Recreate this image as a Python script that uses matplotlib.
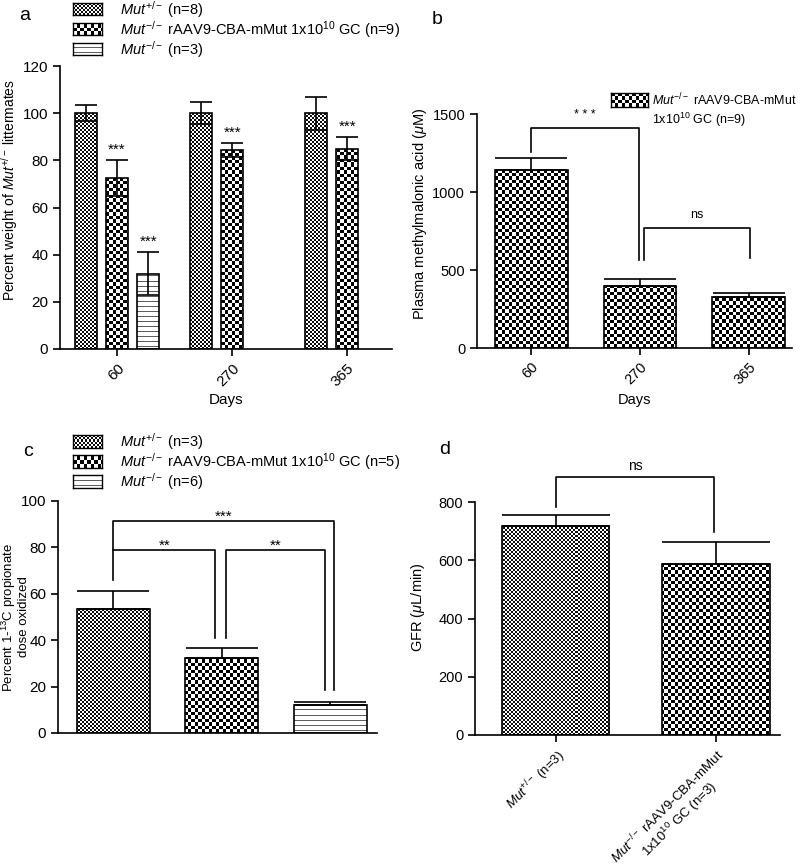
import numpy as np
import matplotlib
matplotlib.use('Agg')
import matplotlib.pyplot as plt

plt.rcParams['font.family'] = 'Liberation Sans'
plt.rcParams['mathtext.fontset'] = 'custom'
plt.rcParams['mathtext.rm'] = 'Liberation Sans'
plt.rcParams['mathtext.it'] = 'Liberation Sans:italic'
plt.rcParams['axes.linewidth'] = 1.2

# ---- data ----
days = ['60', '270', '365']

# a: percent weight of Mut+/- littermates
a_het_mean = [100, 100, 100]
a_het_sem = [3.5, 4.7, 7.0]
a_aav_mean = [72.5, 84.3, 85.0]
a_aav_sem = [7.5, 3.0, 4.8]
a_ko_mean = [32.0]          # only measured at day 60
a_ko_sem = [9.0]

# b: plasma methylmalonic acid (uM), treated mice
b_mma_mean = [1141, 397, 327]
b_mma_sem = [77, 45, 25]
# brackets: (x left, x right, y top, y left end, y right end, label)
b_brackets = [(0, 0.99, 1410, 1256, 564, '* * *'),
              (1.04, 2.01, 769, 564, 577, 'ns')]

# c: percent 1-13C propionate oxidized
c_mean = [53.4, 32.3, 12.2]
c_sem = [7.7, 4.3, 1.0]
c_brackets = [(0, 0.94, 79, 66, 41, '**'),
              (1.04, 1.95, 79, 41, 18.5, '**'),
              (0, 2.03, 91.5, 79, 18.5, '***')]

# d: GFR (uL/min)
d_labels = [r'$Mut^{+/-}$ (n=3)',
            r'$Mut^{-/-}$ rAAV9-CBA-mMut' + '\n' + r'1x10$^{10}$ GC (n=3)']
d_mean = [717, 586]
d_sem = [38, 76]
d_brackets = [(0, 0.99, 886, 783, 696, 'ns')]

FW, FH = 800, 866
fig = plt.figure(figsize=(FW / 100, FH / 100), dpi=100)


def pattern(w, h, kind):
    yy, xx = np.mgrid[0:h, 0:w]
    if kind == 'fine':
        return ((xx // 2 + yy // 2) % 2).astype(float) * 0.95
    if kind == 'coarse':
        return ((np.floor(xx / 3.5) + np.floor(yy / 3.5)) % 2).astype(float)
    return (yy % 5 == 2).astype(float) * 0.7


def fill_bars(ax, bars, kind):
    bb = ax.get_window_extent()
    w, h = int(round(bb.width)), int(round(bb.height))
    x0, x1 = ax.get_xlim()
    y0, y1 = ax.get_ylim()
    z = pattern(w, h, kind)
    for rect in bars:
        im = ax.imshow(z, cmap='Greys', vmin=0, vmax=1, origin='lower',
                       extent=(x0, x1, y0, y1), aspect='auto',
                       interpolation='nearest', zorder=1)
        im.set_clip_path(rect)
    ax.set_xlim(x0, x1)
    ax.set_ylim(y0, y1)


def px_axes(left, top, right, bottom):
    return fig.add_axes([left / FW, 1 - bottom / FH,
                         (right - left) / FW, (bottom - top) / FH])


def style(ax, fs):
    for s in ['top', 'right']:
        ax.spines[s].set_visible(False)
    ax.tick_params(direction='out', length=5, width=1.2, labelsize=fs)


def ylabel_at(ax, text, x_px, y_px, fs, **kw):
    # right edge of the (rotated) label at figure pixel column x_px,
    # label centred on figure pixel row y_px
    ax.set_ylabel(text, fontsize=fs, **kw)
    bb = ax.get_window_extent()
    ax.yaxis.set_label_coords((x_px - bb.x0) / bb.width,
                              ((FH - y_px) - bb.y0) / bb.height)


def swatch(x, y, w, h, kind):
    sa = px_axes(x, y, x + w, y + h)
    sa.imshow(pattern(w, h, kind), cmap='Greys', vmin=0, vmax=1,
              origin='lower', aspect='auto', interpolation='nearest')
    sa.set_xticks([])
    sa.set_yticks([])
    for s in sa.spines.values():
        s.set_linewidth(1.0)


def brackets(ax, items, fs, pad=1):
    for xl, xr, yt, yl, yr, lab in items:
        ax.plot([xl, xl, xr, xr], [yl, yt, yt, yr], color='black', lw=1.2,
                clip_on=False, zorder=4)
        ax.annotate(lab, ((xl + xr) / 2, yt), xytext=(0, pad),
                    textcoords='offset points', ha='center', va='bottom',
                    fontsize=fs, annotation_clip=False)


edge = dict(facecolor='none', edgecolor='black', linewidth=1.2, zorder=2)
err = dict(fmt='none', ecolor='black', elinewidth=1.2, capthick=1.2, zorder=3)

# ---------------- panel a ----------------
ax = px_axes(60, 66, 392, 349)
style(ax, 11)
ax.set_xlim(-0.496, 2.39)
ax.set_ylim(0, 120)
xa = np.arange(len(days))
off = 0.27
bw = 0.19
b1 = ax.bar(xa - off, a_het_mean, bw, **edge)
b2 = ax.bar(xa, a_aav_mean, bw, **edge)
b3 = ax.bar(xa[:1] + off, a_ko_mean, bw, **edge)
fill_bars(ax, b1, 'fine')
fill_bars(ax, b2, 'coarse')
fill_bars(ax, b3, 'lines')
ax.errorbar(xa - off, a_het_mean, yerr=a_het_sem, capsize=8, **err)
ax.errorbar(xa, a_aav_mean, yerr=a_aav_sem, capsize=8, **err)
ax.errorbar(xa[:1] + off, a_ko_mean, yerr=a_ko_sem, capsize=8, **err)
for xi, m, s in zip(xa, a_aav_mean, a_aav_sem):
    ax.text(xi, m + s + 1.5, '***', ha='center', va='bottom', fontsize=11)
ax.text(off, a_ko_mean[0] + a_ko_sem[0] + 1.5, '***', ha='center', va='bottom', fontsize=11)
ax.set_yticks(range(0, 121, 20))
ax.set_xticks(xa)
ax.set_xticklabels(days, rotation=45, ha='right', rotation_mode='anchor')
ax.set_xlabel('Days', fontsize=11, labelpad=3)
ylabel_at(ax, r'Percent weight of $Mut^{+/-}$ littermates', 20, 190, 10)
fig.text(25 / FW, 1 - 16 / FH, 'a', fontsize=14, ha='center', va='center')
leg_a = [r'$Mut^{+/-}$ (n=8)',
         r'$Mut^{-/-}$ rAAV9-CBA-mMut 1x10$^{10}$ GC (n=9)',
         r'$Mut^{-/-}$ (n=3)']
for i, (lab, kind) in enumerate(zip(leg_a, ['fine', 'coarse', 'lines'])):
    swatch(73, 3 + 20 * i, 29, 12, kind)
    fig.text(120 / FW, 1 - (10 + 20 * i) / FH, lab, fontsize=10.5, va='center')

# ---------------- panel b ----------------
ax = px_axes(477, 114, 792, 348)
style(ax, 10.5)
ax.set_xlim(-0.50, 2.4)
ax.set_ylim(0, 1500)
xb = np.arange(len(days))
bb_ = ax.bar(xb, b_mma_mean, 0.67, **edge)
fill_bars(ax, bb_, 'coarse')
ax.errorbar(xb, b_mma_mean, yerr=[[0] * 3, b_mma_sem], capsize=26, **err)
brackets(ax, b_brackets, 9, pad=5)
ax.set_yticks([0, 500, 1000, 1500])
ax.set_xticks(xb)
ax.set_xticklabels(days, rotation=45, ha='right', rotation_mode='anchor')
ax.set_xlabel('Days', fontsize=10.5, labelpad=4)
ylabel_at(ax, r'Plasma methylmalonic acid ($\mu$M)', 429, 214, 10.5)
fig.text(437 / FW, 1 - 20 / FH, 'b', fontsize=14, ha='center', va='center')
swatch(611, 93, 37, 14, 'coarse')
fig.text(652 / FW, 1 - 100 / FH, r'$Mut^{-/-}$ rAAV9-CBA-mMut', fontsize=9, va='center')
fig.text(652 / FW, 1 - 120 / FH, r'1x10$^{10}$ GC (n=9)', fontsize=9, va='center')

# ---------------- panel c ----------------
ax = px_axes(58, 501, 377, 733)
style(ax, 11)
ax.set_xlim(-0.51, 2.43)
ax.set_ylim(0, 100)
xc = np.arange(len(c_mean))
bars_c = ax.bar(xc, c_mean, 0.67, **edge)
for rect, kind in zip(bars_c, ['fine', 'coarse', 'lines']):
    fill_bars(ax, [rect], kind)
ax.errorbar(xc, c_mean, yerr=[[0] * 3, c_sem], capsize=26, **err)
brackets(ax, c_brackets, 11, pad=-2)
ax.set_yticks(range(0, 101, 20))
ax.set_xticks([])
ylabel_at(ax, 'Percent 1-$^{13}$C propionate\ndose oxidized', 30, 617, 9.5,
          linespacing=1.0)
fig.text(28 / FW, 1 - 452 / FH, 'c', fontsize=14, ha='center', va='center')
leg_c = [r'$Mut^{+/-}$ (n=3)',
         r'$Mut^{-/-}$ rAAV9-CBA-mMut 1x10$^{10}$ GC (n=5)',
         r'$Mut^{-/-}$ (n=6)']
for i, (lab, kind) in enumerate(zip(leg_c, ['fine', 'coarse', 'lines'])):
    swatch(73, 435 + 20 * i, 29, 13, kind)
    fig.text(120 / FW, 1 - (442 + 20 * i) / FH, lab, fontsize=10.5, va='center')

# ---------------- panel d ----------------
ax = px_axes(475, 502, 780, 735)
style(ax, 10.5)
ax.set_xlim(-0.503, 1.40)
ax.set_ylim(0, 800)
xd = np.arange(len(d_mean))
bars_d = ax.bar(xd, d_mean, 0.67, **edge)
for rect, kind in zip(bars_d, ['fine', 'coarse']):
    fill_bars(ax, [rect], kind)
ax.errorbar(xd, d_mean, yerr=[[0] * 2, d_sem], capsize=39, **err)
brackets(ax, d_brackets, 10, pad=3)
ax.set_yticks(range(0, 801, 200))
ax.set_xticks(xd)
ax.set_xticklabels(d_labels, rotation=45, ha='right', rotation_mode='anchor',
                   multialignment='center', fontsize=9.5, linespacing=1.0)
ylabel_at(ax, r'GFR ($\mu$L/min)', 427, 607, 10.5)
fig.text(445 / FW, 1 - 450 / FH, 'd', fontsize=14, ha='center', va='center')

fig.savefig('out.png', dpi=100)
